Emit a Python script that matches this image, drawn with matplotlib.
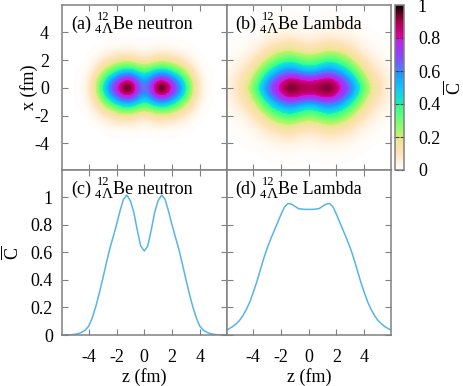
import numpy as np
import matplotlib
matplotlib.use('Agg')
import matplotlib.pyplot as plt
from matplotlib.colors import LinearSegmentedColormap

plt.rcParams['font.family'] = 'Liberation Serif'
plt.rcParams['font.size'] = 13
plt.rcParams['axes.unicode_minus'] = False
plt.rcParams['mathtext.fontset'] = 'custom'
plt.rcParams['mathtext.rm'] = 'Liberation Serif'

# line cuts along z, z >= 0 side (c) and (d)
z_half = [0, 0.25, 0.5, 0.75, 1, 1.25, 1.5, 1.75, 2, 2.25, 2.5, 2.75, 3, 3.25, 3.5, 3.75, 4, 4.25, 4.5, 4.75, 5, 5.25, 5.5, 5.75, 6]
neutron_cut = [0.61, 0.645, 0.76, 0.89, 0.975, 1.015, 0.985, 0.90, 0.80, 0.71, 0.62, 0.515, 0.405, 0.30, 0.205, 0.125, 0.065, 0.036, 0.02, 0.01, 0.005, 0.002, 0.001, 0, 0]
lambda_cut = [0.912, 0.912, 0.914, 0.918, 0.935, 0.95, 0.955, 0.93, 0.875, 0.815, 0.755, 0.695, 0.63, 0.555, 0.47, 0.385, 0.31, 0.24, 0.185, 0.14, 0.105, 0.08, 0.06, 0.045, 0.03]

# neutron map, one quadrant, rows x = 0..6 step 0.5, columns z = 0..6.25 step 5/12 fm
neutron_map = [
    [.61, .71, .93, 1.03, .92, .77, .62, .44, .27, .125, .04, .015, .005, .001, 0, 0],
    [.56, .64, .80, .86, .79, .67, .54, .39, .23, .11, .036, .013, .004, 0, 0, 0],
    [.42, .47, .56, .59, .55, .47, .37, .27, .16, .075, .025, .009, .003, 0, 0, 0],
    [.25, .28, .33, .35, .33, .28, .22, .16, .095, .045, .015, .005, .002, 0, 0, 0],
    [.11, .13, .16, .17, .16, .135, .105, .075, .045, .02, .007, .002, 0, 0, 0, 0],
    [.04, .05, .065, .07, .065, .055, .045, .032, .018, .008, .003, .001, 0, 0, 0, 0],
    [.012, .016, .021, .022, .02, .017, .014, .01, .005, .002, .001, 0, 0, 0, 0, 0],
    [.004, .005, .006, .006, .006, .005, .004, .002, .001, 0, 0, 0, 0, 0, 0, 0],
    [.001, .001, .001, .001, .001, .001, 0, 0, 0, 0, 0, 0, 0, 0, 0, 0],
    [0, 0, 0, 0, 0, 0, 0, 0, 0, 0, 0, 0, 0, 0, 0, 0],
    [0, 0, 0, 0, 0, 0, 0, 0, 0, 0, 0, 0, 0, 0, 0, 0],
    [0, 0, 0, 0, 0, 0, 0, 0, 0, 0, 0, 0, 0, 0, 0, 0],
    [0, 0, 0, 0, 0, 0, 0, 0, 0, 0, 0, 0, 0, 0, 0, 0],
]
# lambda map, one quadrant, rows x = 0..6, columns z = 0..6, step 0.5 fm
lambda_map = [
    [.912, .914, .935, .955, .875, .755, .63, .47, .31, .185, .105, .06, .03],
    [.82, .84, .89, .90, .80, .69, .56, .40, .25, .155, .10, .06, .028],
    [.60, .62, .67, .68, .63, .55, .44, .31, .20, .125, .08, .045, .022],
    [.42, .44, .50, .52, .48, .41, .32, .22, .145, .09, .055, .032, .016],
    [.30, .31, .35, .37, .34, .29, .22, .15, .095, .06, .035, .02, .01],
    [.17, .19, .22, .24, .22, .185, .14, .095, .06, .035, .02, .012, .006],
    [.10, .11, .13, .14, .13, .11, .085, .055, .035, .02, .012, .007, .004],
    [.05, .06, .075, .08, .075, .06, .05, .03, .02, .012, .007, .004, .002],
    [.025, .03, .038, .04, .038, .032, .025, .016, .01, .006, .004, .002, .001],
    [.012, .015, .018, .02, .018, .015, .012, .008, .005, .003, .002, .001, 0],
    [.006, .007, .009, .01, .009, .008, .006, .004, .002, .001, .001, 0, 0],
    [.002, .003, .004, .004, .004, .003, .002, .001, .001, 0, 0, 0, 0],
    [.001, .001, .002, .002, .002, .001, .001, 0, 0, 0, 0, 0, 0],
]

pos_ticks = [-4, -2, 0, 2, 4]
c_ticks = [0, 0.2, 0.4, 0.6, 0.8, 1]
c_labels = ['0', '0.2', '0.4', '0.6', '0.8', '1']
panel_names = ['(a)', '(b)', '(c)', '(d)']
suffixes = ['neutron', 'Lambda', 'neutron', 'Lambda']

cmap = LinearSegmentedColormap.from_list('dens', [
    (0.0, '#ffffff'), (0.1, '#ffe2b8'), (0.2, '#e6e88a'), (0.2, '#c8f268'),
    (0.3, '#70ff70'), (0.4, '#28ff98'), (0.4, '#14eebc'), (0.5, '#10c4ff'),
    (0.6, '#2090ff'), (0.6, '#4884ff'), (0.7, '#9040ff'), (0.8, '#c81ce0'),
    (0.8, '#e000a8'), (0.9, '#a80048'), (0.96, '#500018'), (1.0, '#000000')], N=256)

W, H = 463, 386
GRAY = '#808080'


def full(quadrant):
    q = np.array(quadrant)
    top = np.hstack([q[:, :0:-1], q])
    return np.vstack([top[:0:-1], top])


def add_ax(x0, y0, x1, y1):
    return fig.add_axes([x0 / W, 1 - y1 / H, (x1 - x0) / W, (y1 - y0) / H])


def style(ax):
    for s in ax.spines.values():
        s.set_color(GRAY)
        s.set_linewidth(1.1)
    ax.tick_params(direction='in', length=4.5, width=0.8, color=GRAY, top=True, right=True, left=True, bottom=True)


def put_label(ax, i):
    y_base = -24
    off = dict(xycoords='axes fraction', textcoords='offset pixels', annotation_clip=False)
    ax.annotate(panel_names[i], (0, 1), xytext=(9, y_base), **off)
    ax.annotate('12', (0, 1), xytext=(35, y_base + 9), fontsize=9, **off)
    ax.annotate('4', (0, 1), xytext=(33, y_base - 4), fontsize=9, **off)
    ax.annotate('Λ', (0, 1), xytext=(40, y_base - 4), fontsize=11, **off)
    ax.annotate('Be ' + suffixes[i], (0, 1), xytext=(51, y_base), **off)


fig = plt.figure(figsize=(W / 100, H / 100), dpi=100)
ax_a = add_ax(62, 5, 226.5, 170)
ax_b = add_ax(226.5, 5, 391, 170)
ax_c = add_ax(62, 170, 226.5, 335)
ax_d = add_ax(226.5, 170, 391, 335)
cax = add_ax(395, 5, 404, 170)

ext_a = (-6.4583, 6.4583, -6.25, 6.25)
ext_b = (-6.25, 6.25, -6.25, 6.25)
im = ax_a.imshow(full(neutron_map), extent=ext_a, origin='lower', cmap=cmap, vmin=0, vmax=1, interpolation='bicubic', aspect='auto')
ax_b.imshow(full(lambda_map), extent=ext_b, origin='lower', cmap=cmap, vmin=0, vmax=1, interpolation='bicubic', aspect='auto')

z_half = np.array(z_half)
z = np.concatenate([-z_half[:0:-1], z_half])
ax_c.plot(z, np.concatenate([neutron_cut[:0:-1], neutron_cut]), color='#56b4e9', lw=1.1)
ax_d.plot(z, np.concatenate([lambda_cut[:0:-1], lambda_cut]), color='#56b4e9', lw=1.1)

for ax in (ax_a, ax_b):
    ax.set_xlim(-5.93, 5.93)
    ax.set_ylim(-5.93, 5.97)
    ax.set_yticks(pos_ticks)
for ax in (ax_c, ax_d):
    ax.set_xlim(-5.93, 5.93)
    ax.set_ylim(0, 1.198)
    ax.set_yticks(c_ticks)
for i, ax in enumerate((ax_a, ax_b, ax_c, ax_d)):
    ax.set_xticks(pos_ticks)
    style(ax)
    put_label(ax, i)

ax_a.set_xticklabels([])
ax_b.set_xticklabels([])
ax_b.set_yticklabels([])
ax_d.set_yticklabels([])
ax_a.tick_params(axis='y', pad=9.5)
ax_c.set_yticklabels(c_labels)
ax_c.tick_params(axis='y', pad=6.5)
ax_c.tick_params(axis='x', pad=10)
ax_d.tick_params(axis='x', pad=10)

cb = fig.colorbar(im, cax=cax)
cb.set_ticks(c_ticks)
cb.set_ticklabels(c_labels)
cb.outline.set_edgecolor(GRAY)
cb.outline.set_linewidth(1.1)
cb.ax.tick_params(direction='in', length=3, width=0.8, color='#404040', left=True, right=True, pad=10)

fig.text(29 / W, 1 - 87 / H, 'x (fm)', rotation=90, ha='center', va='center')
fig.text(12 / W, 1 - 253 / H, r'$\overline{\mathrm{C}}$', rotation=90, ha='center', va='center')
fig.text(454 / W, 1 - 88 / H, r'$\overline{\mathrm{C}}$', rotation=90, ha='center', va='center')
fig.text(144 / W, 1 - 382 / H, 'z (fm)', ha='center', va='baseline')
fig.text(309 / W, 1 - 382 / H, 'z (fm)', ha='center', va='baseline')

fig.savefig('out.png', dpi=100)
